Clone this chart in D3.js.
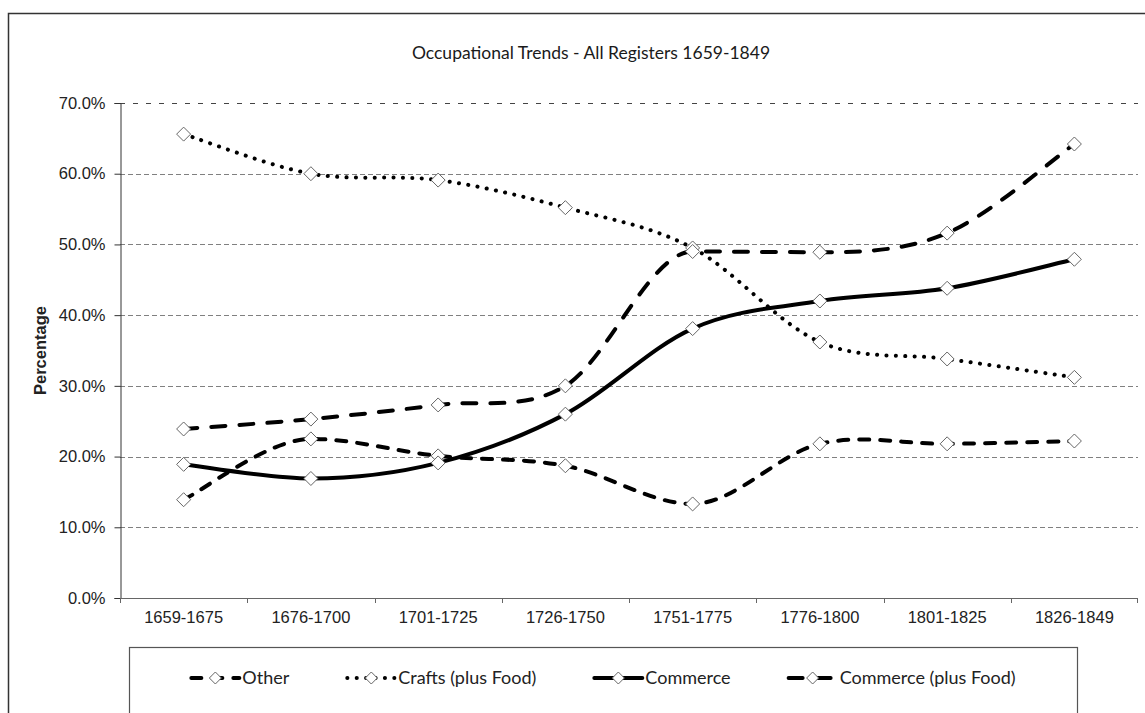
<!DOCTYPE html>
<html>
<head>
<meta charset="utf-8">
<script src="https://cdn.jsdelivr.net/npm/d3@7"></script>
<style>
  body { margin: 0; background: #fff; }
  svg { display: block; }
</style>
</head>
<body>
<div id="chart"></div>
<script>
// Chart data
const categories = ['1659-1675', '1676-1700', '1701-1725', '1726-1750', '1751-1775', '1776-1800', '1801-1825', '1826-1849'];
const otherValues = [0.139, 0.225, 0.201, 0.187, 0.133, 0.218, 0.218, 0.222];
const craftsValues = [0.656, 0.600, 0.591, 0.552, 0.495, 0.362, 0.338, 0.312];
const commerceValues = [0.189, 0.169, 0.191, 0.260, 0.381, 0.420, 0.438, 0.479];
const commerceFoodValues = [0.239, 0.253, 0.273, 0.300, 0.490, 0.489, 0.516, 0.642];
const yTicks = [0, 0.1, 0.2, 0.3, 0.4, 0.5, 0.6, 0.7];

const seriesNames = ['Other', 'Crafts (plus Food)', 'Commerce', 'Commerce (plus Food)'];
const seriesValues = [otherValues, craftsValues, commerceValues, commerceFoodValues];

// line styles per series (Excel-ish dash types)
const lineStyles = [
  { dash: '10,11', width: 4 },
  { dash: '0.1,9.3', width: 4 },
  { dash: null, width: 4 },
  { dash: '14,14', width: 4 }
];

const series = seriesNames.map((name, i) => ({ name, values: seriesValues[i], style: lineStyles[i] }));

const W = 1145, H = 713;
const plot = { left: 120, right: 1138, top: 103, bottom: 598 };

const svg = d3.select('#chart').append('svg')
  .attr('width', W)
  .attr('height', H);

// chart area border (runs off the right and bottom edge like the original crop)
svg.append('rect')
  .attr('x', 8.5).attr('y', 13.5)
  .attr('width', 1200).attr('height', 800)
  .attr('fill', '#fff')
  .attr('stroke', '#333')
  .attr('stroke-width', 1.5);

// Title
svg.append('text')
  .attr('x', 591).attr('y', 59)
  .attr('text-anchor', 'middle')
  .style('font-family', 'Lato, "Open Sans", sans-serif')
  .style('font-size', '17.5px')
  .attr('fill', '#1a1a1a')
  .text('Occupational Trends - All Registers 1659-1849');

const x = d3.scaleBand()
  .domain(categories)
  .range([plot.left, plot.right]);

const y = d3.scaleLinear()
  .domain([0, 0.7])
  .range([plot.bottom, plot.top]);

const cx = d => x(d) + x.bandwidth() / 2;

// Gridlines
svg.append('g')
  .selectAll('line')
  .data(yTicks.filter(t => t > 0))
  .enter()
  .append('line')
  .attr('x1', plot.left)
  .attr('x2', plot.right)
  .attr('y1', d => Math.round(y(d)) + 0.5)
  .attr('y2', d => Math.round(y(d)) + 0.5)
  .attr('stroke', d => d === 0.7 ? '#444' : '#808080')
  .attr('stroke-width', 1)
  .attr('stroke-dasharray', d => d === 0.7 ? '5,8' : '5,3');

// Y axis
const yAxis = svg.append('g')
  .attr('transform', `translate(${plot.left + 0.5},0)`)
  .call(d3.axisLeft(y).tickValues(yTicks).tickFormat(d3.format('.1%')).tickSize(6).tickPadding(9));
yAxis.select('.domain').attr('stroke', '#333');
yAxis.selectAll('.tick line').attr('stroke', '#333');
yAxis.selectAll('text')
  .style('font-family', '"Liberation Sans", Arial, sans-serif')
  .style('font-size', '16.5px')
  .attr('fill', '#222');

// X axis: line, ticks between categories, labels centred
const xAxis = svg.append('g').attr('class', 'x-axis');
xAxis.append('line')
  .attr('x1', plot.left).attr('x2', plot.right)
  .attr('y1', plot.bottom + 0.5).attr('y2', plot.bottom + 0.5)
  .attr('stroke', '#666');
xAxis.selectAll('.edge')
  .data(categories.concat(['end']))
  .enter()
  .append('line')
  .attr('class', 'edge')
  .attr('x1', d => d === 'end' ? plot.right - 0.5 : Math.round(x(d)) + 0.5)
  .attr('x2', d => d === 'end' ? plot.right - 0.5 : Math.round(x(d)) + 0.5)
  .attr('y1', plot.bottom)
  .attr('y2', plot.bottom + 5)
  .attr('stroke', '#666');
xAxis.selectAll('.lbl')
  .data(categories)
  .enter()
  .append('text')
  .attr('class', 'lbl')
  .attr('x', d => cx(d))
  .attr('y', 623)
  .attr('text-anchor', 'middle')
  .style('font-family', '"Liberation Sans", Arial, sans-serif')
  .style('font-size', '16.5px')
  .attr('fill', '#222')
  .text(d => d);

// Axis titles
svg.append('text')
  .attr('transform', `translate(46, ${(plot.top + plot.bottom) / 2}) rotate(-90)`)
  .attr('text-anchor', 'middle')
  .style('font-family', '"Liberation Sans", Arial, sans-serif')
  .style('font-size', '16.5px')
  .style('font-weight', 'bold')
  .attr('fill', '#222')
  .text('Percentage');

svg.append('text')
  .attr('x', (plot.left + plot.right) / 2)
  .attr('y', 660)
  .attr('text-anchor', 'middle')
  .style('font-family', '"Liberation Sans", Arial, sans-serif')
  .style('font-size', '16.5px')
  .style('font-weight', 'bold')
  .attr('fill', '#222')
  .text('Cohorts');

// Smoothed line like Excel: cubic bezier with 1/6 control arms,
// tangent flattened where the point is a local peak/dip
function smoothPath(pts) {
  const n = pts.length;
  const tan = pts.map((p, i) => {
    const a = pts[Math.max(i - 1, 0)];
    const b = pts[Math.min(i + 1, n - 1)];
    let tx = (b[0] - a[0]) / 2;
    let ty = (b[1] - a[1]) / 2;
    if (i > 0 && i < n - 1 && (p[1] - a[1]) * (b[1] - p[1]) < 0) ty = 0;
    return [tx, ty];
  });
  const path = d3.path();
  path.moveTo(pts[0][0], pts[0][1]);
  for (let i = 0; i < n - 1; i++) {
    const p = pts[i], q = pts[i + 1];
    path.bezierCurveTo(
      p[0] + tan[i][0] / 3, p[1] + tan[i][1] / 3,
      q[0] - tan[i + 1][0] / 3, q[1] - tan[i + 1][1] / 3,
      q[0], q[1]);
  }
  return path.toString();
}

const diamond = s => `M0,${-s}L${s},0L0,${s}L${-s},0Z`;

// Lines + markers
series.forEach(s => {
  const g = svg.append('g');
  const pts = s.values.map((v, i) => [cx(categories[i]), y(v)]);
  g.append('path')
    .attr('d', smoothPath(pts))
    .attr('fill', 'none')
    .attr('stroke', '#000')
    .attr('stroke-width', s.style.width)
    .attr('stroke-linecap', 'round')
    .attr('stroke-linejoin', 'round')
    .attr('stroke-dasharray', s.style.dash);

  g.selectAll('path.marker')
    .data(s.values)
    .enter()
    .append('path')
    .attr('class', 'marker')
    .attr('d', diamond(7))
    .attr('transform', (d, i) => `translate(${cx(categories[i])},${y(d)})`)
    .attr('fill', '#fff')
    .attr('stroke', '#666')
    .attr('stroke-width', 1);
});

// Legend (box runs off the bottom edge)
const legendBox = { x: 129.5, y: 647.5, w: 948 };
svg.append('rect')
  .attr('x', legendBox.x).attr('y', legendBox.y)
  .attr('width', legendBox.w).attr('height', 100)
  .attr('fill', '#fff')
  .attr('stroke', '#555')
  .attr('stroke-width', 1.2);

const legend = svg.append('g');
const legendY = 678;
const symLen = 48, symGap = 3, itemGap = 58;

const items = legend.selectAll('g')
  .data(series)
  .enter()
  .append('g');

items.append('line')
  .attr('x1', 0).attr('x2', symLen)
  .attr('y1', 0).attr('y2', 0)
  .attr('stroke', '#000')
  .attr('stroke-width', d => d.style.width)
  .attr('stroke-linecap', 'round')
  .attr('stroke-dasharray', d => d.style.dash);

items.append('path')
  .attr('d', diamond(6))
  .attr('transform', `translate(${symLen / 2},0)`)
  .attr('fill', '#fff')
  .attr('stroke', '#666');

items.append('text')
  .attr('x', symLen + symGap)
  .attr('dy', '0.35em')
  .style('font-family', 'Lato, "Open Sans", sans-serif')
  .style('font-size', '18px')
  .attr('fill', '#222')
  .text(d => d.name);

// flow the legend items and centre them in the box
let offset = 0;
const widths = [];
items.each(function () {
  const tw = d3.select(this).select('text').node().getComputedTextLength();
  widths.push(symLen + symGap + tw);
});
const total = d3.sum(widths) + itemGap * (widths.length - 1);
const startX = legendBox.x + (legendBox.w - total) / 2;
items.attr('transform', (d, i) => {
  const tx = startX + offset;
  offset += widths[i] + itemGap;
  return `translate(${tx},${legendY})`;
});
</script>
</body>
</html>
